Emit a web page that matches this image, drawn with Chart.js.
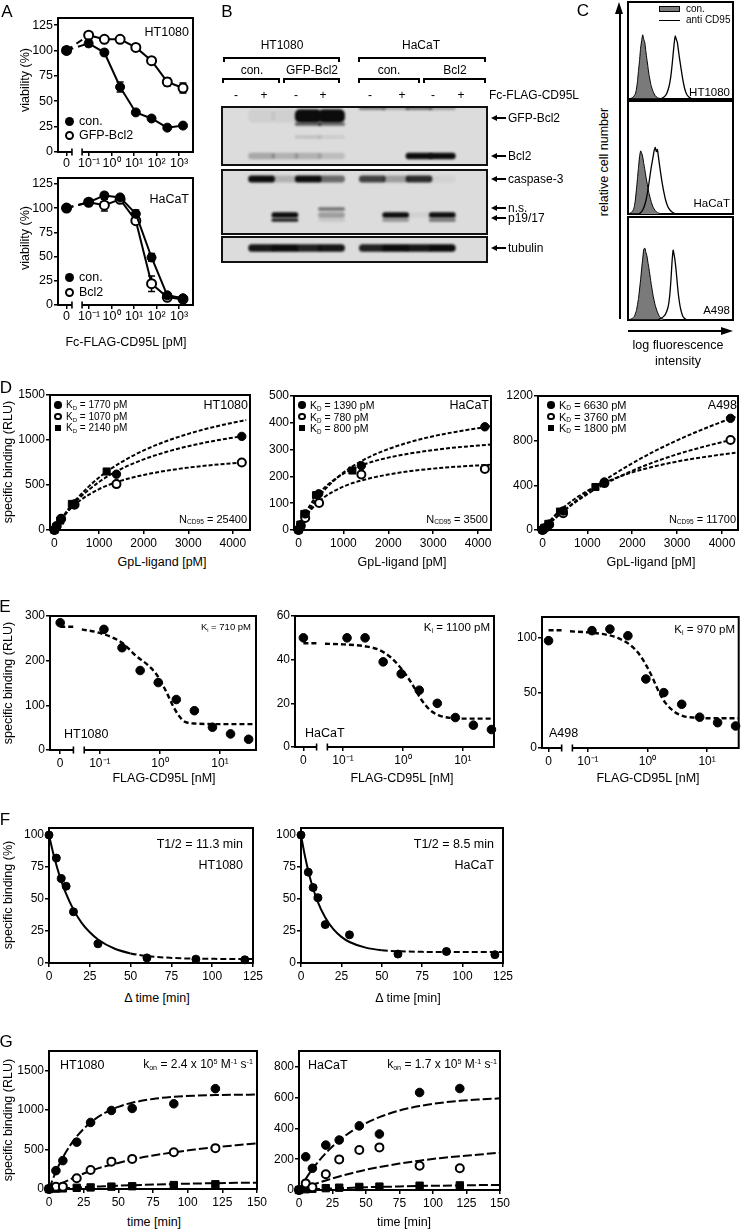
<!DOCTYPE html>
<html><head><meta charset="utf-8"><title>Figure</title>
<script src="https://cdn.jsdelivr.net/npm/chart.js@4.4.1/dist/chart.umd.min.js"></script>
<style>
html,body{margin:0;padding:0;background:#fff;}
#fig{position:relative;width:745px;height:1232px;overflow:hidden;background:#fff;font-family:"Liberation Sans",Arial,Helvetica,sans-serif;color:#000;}
#fig canvas{position:absolute;}
.t{position:absolute;white-space:nowrap;line-height:1;}
.t sub{font-size:60%;vertical-align:-0.3em;line-height:0;}
.t sup{font-size:60%;vertical-align:0.6em;line-height:0;}
</style></head><body><div id="fig"></div>
<script>
// ======================= DATA =======================
// Panel A – viability vs Fc-FLAG-CD95L [pM]
const A_conc = [0, 0.096, 0.48, 2.4, 12, 60, 300, 1500];
const A_HT1080_con = [100, 107, 98, 64, 39, 33, 24, 26];
const A_HT1080_con_sd = [0, 3, 3, 5, 2, 1, 1, 1];
const A_HT1080_gfp = [100, 115, 111, 111, 103, 90, 69, 63];
const A_HT1080_gfp_sd = [0, 2, 1, 1, 3, 1, 4, 5];
const A_HaCaT_con = [100, 106, 113, 111, 94, 49, 10, 7];
const A_HaCaT_con_sd = [0, 2, 3, 1, 4, 4, 2, 1];
const A_HaCaT_bcl = [100, 106, 103, 109, 87, 22, 8, 6];
const A_HaCaT_bcl_sd = [0, 2, 6, 2, 3, 8, 2, 1];
const A_xTickLabels = ['0', '10⁻¹', '10⁰', '10¹', '10²', '10³'];
const A_yTicks = [0, 25, 50, 75, 100, 125];

// Panel B – western blot band intensities per lane (0..1)
const B_lanes = ['-', '+', '-', '+', '-', '+', '-', '+'];
const B_laneX = [1, 2, 3, 4, 5.75, 6.75, 7.75, 8.75];
const B_GFPBcl2 = [0.06, 0.06, 1, 1, 0, 0, 0, 0];
const B_GFPBcl2_low = [0, 0, 0.6, 0.55, 0, 0, 0, 0];
const B_GFPBcl2_deg = [0, 0, 0.12, 0.08, 0, 0, 0, 0];
const B_topEdge = [0, 0, 0, 0, 0.45, 0.25, 0.5, 0.3];
const B_Bcl2 = [0.25, 0.2, 0.2, 0.15, 0, 0, 1, 1];
const B_casp3 = [1, 0.2, 1, 0.55, 0.75, 0.3, 0.85, 0.05];
const B_ns = [0, 0, 0, 0.5, 0, 0, 0, 0];
const B_p19 = [0, 1, 0, 0.3, 0, 1, 0.05, 1];
const B_p17 = [0, 0.9, 0, 0.1, 0, 0.35, 0, 0.5];
const B_tubulin = [0.95, 1, 0.9, 0.95, 0.9, 1, 0.95, 1];

// Panel C – flow cytometry histograms (channel, counts)
const C_HT_con_x = [0, 3, 5, 7, 8, 9, 10, 11, 12, 13, 14, 15, 16, 17, 18, 19, 20, 22, 24, 26, 28, 30, 34, 100];
const C_HT_con_y = [0, 1, 3, 8, 15, 27, 44, 60, 79, 91, 100, 93, 88, 74, 62, 50, 38, 21, 11, 5, 2, 1, 0, 0];
const C_HT_anti_x = [0, 30, 33, 35, 37, 39, 40, 41, 42, 43, 44, 45, 46, 47, 48, 49, 50, 52, 54, 56, 58, 60, 64, 100];
const C_HT_anti_y = [0, 0, 2, 4, 9, 19, 27, 38, 53, 70, 87, 98, 93, 88, 76, 64, 53, 32, 16, 7, 3, 1, 0, 0];
const C_Ha_con_x = [0, 3, 5, 6, 7, 8, 9, 10, 11, 12, 13, 14, 15, 16, 17, 18, 20, 22, 24, 26, 28, 30, 34, 100];
const C_Ha_con_y = [0, 2, 6, 11, 21, 36, 53, 70, 86, 95, 92, 86, 76, 67, 57, 48, 31, 19, 10, 5, 2, 1, 0, 0];
const C_Ha_anti_x = [0, 10, 12, 14, 16, 18, 20, 22, 24, 25, 26, 27, 28, 29, 30, 32, 34, 36, 38, 40, 42, 44, 48, 100];
const C_Ha_anti_y = [0, 0, 2, 6, 14, 27, 47, 69, 87, 96, 100, 94, 97, 86, 74, 52, 34, 20, 11, 6, 3, 1, 0, 0];
const C_A4_con_x = [0, 4, 6, 8, 10, 12, 13, 14, 15, 16, 17, 18, 19, 20, 22, 24, 26, 28, 30, 32, 36, 100];
const C_A4_con_y = [0, 2, 5, 13, 30, 56, 71, 85, 98, 100, 94, 89, 80, 71, 51, 33, 20, 11, 5, 2, 0, 0];
const C_A4_anti_x = [0, 28, 31, 34, 36, 38, 39, 40, 41, 42, 43, 44, 45, 46, 47, 48, 50, 52, 54, 57, 100];
const C_A4_anti_y = [0, 0, 2, 5, 9, 17, 25, 38, 58, 82, 97, 90, 80, 66, 50, 35, 16, 6, 2, 0, 0];

// Panel D – saturation binding, GpL-ligand [pM] vs RLU
const D_fitX = [0, 100, 250, 500, 1000, 1500, 2000, 2500, 3000, 3500, 4000, 4300];
const D_HT_x1 = [0, 50, 150, 450, 1390, 4200], D_HT_y1 = [0, 40, 120, 290, 620, 1040];
const D_HT_x2 = [0, 50, 150, 450, 1390, 4200], D_HT_y2 = [0, 45, 125, 280, 510, 750];
const D_HT_x3 = [0, 40, 130, 390, 1170], D_HT_y3 = [0, 35, 105, 290, 650];
const D_HT_fit1 = [0, 79, 183, 326, 534, 679, 785, 866, 931, 983, 1026, 1048];
const D_HT_fit2 = [0, 80, 178, 299, 454, 549, 612, 658, 693, 720, 742, 753];
const D_HT_fit3 = [0, 82, 191, 347, 583, 754, 884, 986, 1068, 1136, 1192, 1222];
const D_Ha_x1 = [0, 50, 150, 450, 1400, 4150], D_Ha_y1 = [0, 20, 60, 135, 240, 385];
const D_Ha_x2 = [0, 50, 150, 460, 1400, 4150], D_Ha_y2 = [0, 15, 45, 101, 207, 228];
const D_Ha_x3 = [0, 40, 130, 390, 1200], D_Ha_y3 = [0, 20, 60, 130, 222];
const D_Ha_fit1 = [0, 34, 78, 135, 214, 266, 302, 329, 350, 366, 380, 388];
const D_Ha_fit2 = [0, 33, 70, 113, 162, 189, 207, 220, 229, 236, 241, 244];
const D_Ha_fit3 = [0, 42, 90, 145, 210, 247, 270, 286, 298, 308, 315, 319];
const D_A4_x1 = [0, 50, 150, 460, 1380, 4190], D_A4_y1 = [0, 15, 50, 170, 430, 1000];
const D_A4_x2 = [0, 50, 150, 460, 1380, 4190], D_A4_y2 = [0, 15, 50, 150, 420, 806];
const D_A4_x3 = [0, 40, 130, 390, 1180], D_A4_y3 = [0, 20, 55, 165, 385];
const D_A4_fit1 = [0, 38, 94, 181, 338, 475, 597, 706, 803, 890, 969, 1014];
const D_A4_fit2 = [0, 40, 95, 179, 321, 435, 530, 610, 678, 736, 787, 815];
const D_A4_fit3 = [0, 52, 120, 213, 350, 445, 516, 570, 613, 647, 676, 691];

// Panel E – competition, FLAG-CD95L [nM] vs RLU
const E_conc = [0, 0.117, 0.234, 0.469, 0.938, 1.875, 3.75, 7.5, 15, 30];
const E_HT = [285, 270, 229, 178, 151, 113, 88, 51, 36, 24];
const E_Ha = [50, 50, 50, 39, 33.5, 26, 20, 13.5, 10, 8];
const E_A4 = [97.5, 106.6, 108, 102, 62.7, 50.3, 39.7, 28, 23, 20];
const E_xTickLabels = ['0', '10⁻¹', '10⁰', '10¹'];
const E_HT_fitLog = [-1.3, -1.0, -0.63, -0.4, -0.2, -0.05, 0.1, 0.22, 0.32, 0.42, 0.6, 1.0, 1.6];
const E_HT_fit = [270, 262, 240, 211, 190, 168, 132, 98, 76, 63, 59, 58, 58];
const E_HT_fit0 = 276;
const E_Ha_fitLog = [-1.3, -1.0, -0.6, -0.4, -0.2, 0, 0.15, 0.3, 0.45, 0.6, 0.8, 1.0, 1.5];
const E_Ha_fit = [47.3, 47, 46, 44.5, 41, 35, 29, 22, 17, 14.5, 13.3, 13, 13];
const E_Ha_fit0 = 47.5;
const E_A4_fitLog = [-1.3, -1.0, -0.7, -0.5, -0.3, -0.15, 0, 0.1, 0.2, 0.3, 0.45, 0.6, 0.8, 1.0, 1.55];
const E_A4_fit = [106, 105, 103, 100, 94, 86, 73, 62, 50, 41, 33, 29, 27.5, 27, 27];
const E_A4_fit0 = 107;

// Panel F – dissociation, Δ time [min] vs % specific binding
const F_time = [0, 4.5, 7.5, 10.5, 15, 30, 60, 90, 120];
const F_HT = [100, 82, 66, 60, 40, 15, 4, 3, 2.5];
const F_Ha = [100, 71, 59, 51, 30, 22, 7, 9, 6.5];
const F_fitTime = [0, 2.5, 5, 7.5, 10, 15, 20, 25, 30, 40, 50, 60, 75, 90, 105, 125];
const F_HT_fit = [100, 86.2, 74.4, 64.2, 55.6, 41.7, 31.4, 24.0, 18.4, 11.3, 7.5, 5.4, 4.0, 3.4, 3.2, 3.05];
const F_Ha_fit = [100, 83.2, 69.4, 58.2, 49.0, 35.5, 26.4, 20.4, 16.4, 12.0, 10.0, 9.2, 8.7, 8.56, 8.52, 8.5];

// Panel G – association, time [min] vs RLU
const G_time = [0, 5, 10, 20, 30, 45, 60, 90, 120];
const G_HT_1 = [0, 233, 360, 594, 844, 996, 1022, 1081, 1272];
const G_HT_2 = [0, 30, 30, 136, 242, 347, 382, 467, 518];
const G_HT_3 = [0, 5, 8, 15, 20, 30, 35, 50, 60];
const G_Ha_1 = [0, 216, 141, 292, 325, 417, 364, 634, 660];
const G_Ha_2 = [0, 43, 18, 102, 199, 260, 277, 158, 141];
const G_Ha_3 = [0, 5, 8, 12, 15, 20, 22, 28, 30];
const G_fitTime = [0, 5, 10, 15, 20, 30, 40, 50, 60, 75, 90, 105, 120, 135, 150];
const G_HT_fit1 = [0, 220, 400, 546, 666, 843, 962, 1042, 1094, 1142, 1169, 1183, 1191, 1195, 1197];
const G_HT_fit2 = [0, 42, 80, 120, 160, 230, 285, 330, 375, 425, 465, 500, 530, 555, 578];
const G_HT_fit3 = [0, 5, 10, 14, 20, 28, 35, 42, 48, 56, 63, 69, 74, 78, 81];
const G_Ha_fit1 = [0, 72, 135, 191, 240, 322, 386, 435, 474, 517, 546, 566, 580, 589, 596];
const G_Ha_fit2 = [0, 17, 33, 48, 62, 88, 111, 132, 149, 172, 191, 207, 220, 231, 243];
const G_Ha_fit3 = [0, 3, 5, 7, 9, 12, 15, 18, 20, 23, 26, 28, 30, 32, 33];

// ======================= SETUP =======================
const fig = document.getElementById('fig');
Chart.defaults.font.family = '"Liberation Sans", Arial, Helvetica, sans-serif';
Chart.defaults.font.size = 12;
Chart.defaults.color = '#000';

const framePlugin = {
  id: 'frame',
  beforeDatasetsDraw(chart, args, o) {
    const {ctx, chartArea: a} = chart;
    ctx.save();
    if (o.bg) { ctx.fillStyle = o.bg; ctx.fillRect(a.left, a.top, a.right - a.left, a.bottom - a.top); }
    ctx.strokeStyle = o.color || '#000';
    ctx.lineWidth = o.lw || 2;
    ctx.strokeRect(a.left, a.top, a.right - a.left, a.bottom - a.top);
    if (o.brk) {
      const xs = chart.scales.x;
      const x1 = xs.getPixelForValue(o.brk[0]), x2 = xs.getPixelForValue(o.brk[1]);
      ctx.fillStyle = '#fff';
      ctx.fillRect(x1, a.bottom - 2, x2 - x1, 4);
      ctx.lineWidth = 1.6;
      ctx.beginPath();
      [x1, x2].forEach(x => { ctx.moveTo(x, a.bottom - 3.5); ctx.lineTo(x, a.bottom + 3.5); });
      ctx.stroke();
    }
    ctx.restore();
  }
};
const errPlugin = {
  id: 'errbars',
  beforeDatasetsDraw(chart) {
    const ctx = chart.ctx;
    chart.data.datasets.forEach((ds, di) => {
      if (!ds.errors) return;
      const meta = chart.getDatasetMeta(di);
      const ys = chart.scales[meta.yAxisID];
      ctx.save(); ctx.strokeStyle = '#000'; ctx.lineWidth = 1.5;
      meta.data.forEach((p, i) => {
        const e = ds.errors[i]; if (!e) return;
        const v = ds.data[i].y;
        const yt = ys.getPixelForValue(v + e), yb = ys.getPixelForValue(v - e);
        ctx.beginPath();
        ctx.moveTo(p.x, yt); ctx.lineTo(p.x, yb);
        ctx.moveTo(p.x - 3.5, yt); ctx.lineTo(p.x + 3.5, yt);
        ctx.moveTo(p.x - 3.5, yb); ctx.lineTo(p.x + 3.5, yb);
        ctx.stroke();
      });
      ctx.restore();
    });
  }
};
const blurPlugin = {
  id: 'blur',
  beforeDatasetDraw(chart, args, o) { if (o && o.px) chart.ctx.filter = 'blur(' + o.px + 'px)'; },
  afterDatasetDraw(chart) { chart.ctx.filter = 'none'; }
};
Chart.register(framePlugin, errPlugin, blurPlugin);

function axis(o) {
  return {
    type: 'linear', position: o.pos, min: o.min, max: o.max,
    afterBuildTicks(s) { s.ticks = o.ticks.map(v => ({value: v})); },
    ticks: {autoSkip: false, maxRotation: 0, minRotation: 0, padding: o.tp ?? 2, font: {size: o.fs ?? 12}, color: '#000',
      callback: (v, i) => o.labels ? o.labels[i] : String(v)},
    grid: {display: true, drawOnChartArea: false, drawTicks: true, tickLength: 4, tickWidth: 1.5, tickColor: '#000', color: '#000', lineWidth: 1.5},
    border: {display: false}
  };
}
const sx = o => axis(Object.assign({pos: 'bottom'}, o));
const sy = o => axis(Object.assign({pos: 'left', tp: 1}, o));
const hid = (min, max, rev) => ({type: 'linear', display: false, min, max, reverse: !!rev});

function makeChart(rect, pad, axes, type, datasets, scales, plug) {
  const cv = document.createElement('canvas');
  const W = rect.R - rect.L + pad.l + pad.r, H = rect.B - rect.T + pad.t + pad.b;
  cv.width = W; cv.height = H;
  cv.style.left = (rect.L - pad.l) + 'px'; cv.style.top = (rect.T - pad.t) + 'px';
  cv.style.width = W + 'px'; cv.style.height = H + 'px';
  fig.appendChild(cv);
  if (axes) {
    scales.x.afterFit = s => { s.height = pad.b; s.paddingLeft = 0; s.paddingRight = 0; };
    scales.y.afterFit = s => { s.width = pad.l; s.paddingTop = 0; s.paddingBottom = 0; };
  }
  return new Chart(cv.getContext('2d'), {
    type, data: {datasets},
    options: {
      responsive: false, maintainAspectRatio: false, animation: false, devicePixelRatio: 1,
      layout: {padding: axes ? {left: 0, top: pad.t, right: pad.r, bottom: 0} : {left: pad.l, top: pad.t, right: pad.r, bottom: pad.b}},
      scales,
      plugins: Object.assign({legend: {display: false}, tooltip: {enabled: false}, title: {display: false}}, plug || {})
    }
  });
}

// dataset helpers
function pts(xs, ys, kind, r, xf) {
  return {data: xs.map((x, i) => ({x: xf ? xf(x) : x, y: ys[i]})), showLine: false, clip: false,
    pointRadius: r, pointStyle: kind === 's' ? 'rect' : 'circle',
    pointBackgroundColor: kind === 'o' ? '#fff' : '#000', pointBorderColor: '#000', pointBorderWidth: kind === 'o' ? 2 : 1};
}
function crv(xs, ys, dash, w, extra) {
  return Object.assign({data: xs.map((x, i) => ({x, y: ys[i]})), showLine: true, pointRadius: 0, borderColor: '#000',
    borderWidth: w || 2, borderDash: dash || [], cubicInterpolationMode: 'monotone'}, extra || {});
}

// HTML text / shapes
function el(css) { const d = document.createElement('div'); d.style.cssText = 'position:absolute;' + css; fig.appendChild(d); return d; }
function T(html, x, y, fs, align, rot) {
  const d = el('left:' + x + 'px;top:' + y + 'px;font-size:' + (fs || 12) + 'px;white-space:nowrap;line-height:1;');
  d.className = 't';
  d.innerHTML = html;
  const tx = rot ? '-50%' : (align === 'c' ? '-50%' : align === 'r' ? '-100%' : '0');
  d.style.transform = 'translate(' + tx + ',-50%)' + (rot ? ' rotate(' + rot + 'deg)' : '');
}
function M(kind, x, y, s) {
  const base = 'left:' + (x - s / 2) + 'px;top:' + (y - s / 2) + 'px;width:' + s + 'px;height:' + s + 'px;box-sizing:border-box;';
  if (kind === 'f') el(base + 'border-radius:50%;background:#000;');
  else if (kind === 'o') el(base + 'border-radius:50%;background:#fff;border:2px solid #000;');
  else el(base + 'background:#000;');
}
function Rect(x, y, w, h, css) { el('left:' + x + 'px;top:' + y + 'px;width:' + w + 'px;height:' + h + 'px;background:#000;' + (css || '')); }

// ======================= PANEL A =======================
const AZ = -2;
const axA = c => c === 0 ? AZ : Math.log10(c);
function seriesA(vals, sd, open) {
  return {data: A_conc.map((c, i) => ({x: axA(c), y: vals[i]})), errors: sd, showLine: true, clip: false,
    borderColor: '#000', borderWidth: 2, pointRadius: 4.5,
    pointBackgroundColor: open ? '#fff' : '#000', pointBorderColor: '#000', pointBorderWidth: open ? 2 : 1,
    segment: {borderDash: c => c.p0DataIndex === 0 ? [7, 5] : undefined}};
}
const A_x = () => sx({min: -2.38, max: 3.62, ticks: [-2, -1, 0, 1, 2, 3], labels: A_xTickLabels, tp: 0, fs: 12.5});
makeChart({L: 58, T: 18, R: 193, B: 152}, {l: 58, t: 10, r: 8, b: 22}, true, 'scatter',
  [seriesA(A_HT1080_con, A_HT1080_con_sd, false), seriesA(A_HT1080_gfp, A_HT1080_gfp_sd, true)],
  {x: A_x(), y: sy({min: 0, max: 132, ticks: A_yTicks, fs: 12.5})}, {frame: {brk: [-1.76, -1.31]}});
makeChart({L: 58, T: 178, R: 193, B: 305}, {l: 58, t: 10, r: 8, b: 22}, true, 'scatter',
  [seriesA(A_HaCaT_con, A_HaCaT_con_sd, false), seriesA(A_HaCaT_bcl, A_HaCaT_bcl_sd, true)],
  {x: A_x(), y: sy({min: 0, max: 131, ticks: A_yTicks, fs: 12.5})}, {frame: {brk: [-1.76, -1.31]}});

T('A', 7, 11, 17, 'c');
T('HT1080', 189, 32, 12.5, 'r');
M('f', 69, 121, 9); T('con.', 79, 121, 12.5);
M('o', 69, 135, 9); T('GFP-Bcl2', 79, 135, 12.5);
T('viability (%)', 25, 80, 12.5, 'c', -90);
T('HaCaT', 189, 199, 12.5, 'r');
M('f', 69, 277, 9); T('con.', 79, 277, 12.5);
M('o', 69, 292, 9); T('Bcl2', 79, 292, 12.5);
T('viability (%)', 25, 238, 12.5, 'c', -90);
T('Fc-FLAG-CD95L [pM]', 126, 342, 12.5, 'c');

// ======================= PANEL B =======================
function bandSet(vals, y, h) {
  return {type: 'bar', grouped: false, barThickness: 26, borderRadius: 5, borderSkipped: false,
    data: B_laneX.map((x, i) => ({x, y: [y - h / 2, y + h / 2]})),
    backgroundColor: vals.map(a => 'rgba(12,12,12,' + a + ')')};
}
const blotX = () => hid(0.25, 9.72);
const blotPlug = {frame: {bg: '#dcdcdc', lw: 2, color: '#111'}, blur: {px: 1.1}};
makeChart({L: 222, T: 107, R: 487, B: 165}, {l: 1, t: 1, r: 1, b: 1}, false, 'bar',
  [bandSet(B_GFPBcl2, 9, 13), bandSet(B_GFPBcl2_low, 17, 3), bandSet(B_GFPBcl2_deg, 30, 3), bandSet(B_topEdge, 1.5, 2.5), bandSet(B_Bcl2, 49, 6)],
  {x: blotX(), y: hid(0, 58, true)}, blotPlug);
makeChart({L: 222, T: 170, R: 487, B: 234}, {l: 1, t: 1, r: 1, b: 1}, false, 'bar',
  [bandSet(B_casp3, 9, 6.5), bandSet(B_ns, 39, 3), bandSet(B_p19, 45, 5), bandSet(B_p17, 50, 3)],
  {x: blotX(), y: hid(0, 64, true)}, blotPlug);
makeChart({L: 222, T: 237, R: 487, B: 262}, {l: 1, t: 1, r: 1, b: 1}, false, 'bar',
  [bandSet(B_tubulin, 11, 7)],
  {x: blotX(), y: hid(0, 25, true)}, blotPlug);

T('B', 227, 11, 17, 'c');
T('HT1080', 282, 45, 12, 'c'); T('HaCaT', 421, 45, 12, 'c');
function bracket(x1, x2, y) { Rect(x1, y, x2 - x1, 1.6); Rect(x1, y, 1.6, 4.5); Rect(x2 - 1.6, y, 1.6, 4.5); }
bracket(223, 340, 57); bracket(358, 486, 57);
bracket(222, 280, 78); bracket(283, 340, 78); bracket(358, 420, 78); bracket(423, 486, 78);
T('con.', 252, 70, 12, 'c'); T('GFP-Bcl2', 312, 70, 12, 'c'); T('con.', 389, 70, 12, 'c'); T('Bcl2', 455, 70, 12, 'c');
const B_labelX = [236, 264, 296, 323, 370, 402, 433, 461];
B_lanes.forEach((s, i) => T(s, B_labelX[i], 95, 12, 'c'));
T('Fc-FLAG-CD95L', 489, 95, 12);
function blotLabel(txt, y) {
  el('left:491px;top:' + (y - 3.5) + 'px;width:0;height:0;border-top:3.5px solid transparent;border-bottom:3.5px solid transparent;border-right:6px solid #000;');
  Rect(496, y - 1, 10, 2);
  T(txt, 508, y, 12);
}
blotLabel('GFP-Bcl2', 118); blotLabel('Bcl2', 156); blotLabel('caspase-3', 179);
blotLabel('n.s.', 208); blotLabel('p19/17', 218); blotLabel('tubulin', 248);

// ======================= PANEL C =======================
function histSet(xs, ys, filled) {
  return {data: xs.map((x, i) => ({x, y: ys[i]})), showLine: true, pointRadius: 0, borderColor: '#000',
    borderWidth: filled ? 1 : 1.3, fill: filled ? 'origin' : false, backgroundColor: filled ? '#7a7a7a' : 'rgba(0,0,0,0)', tension: 0.15};
}
const C_boxes = [
  {r: {L: 628, T: 2, R: 733, B: 99}, con: [C_HT_con_x, C_HT_con_y], anti: [C_HT_anti_x, C_HT_anti_y], ymax: 151},
  {r: {L: 628, T: 101, R: 733, B: 214}, con: [C_Ha_con_x, C_Ha_con_y], anti: [C_Ha_anti_x, C_Ha_anti_y], ymax: 170},
  {r: {L: 628, T: 217, R: 733, B: 320}, con: [C_A4_con_x, C_A4_con_y], anti: [C_A4_anti_x, C_A4_anti_y], ymax: 143}
];
C_boxes.forEach(b => makeChart(b.r, {l: 1, t: 1, r: 1, b: 1}, false, 'line',
  [histSet(b.anti[0], b.anti[1], false), histSet(b.con[0], b.con[1], true)],
  {x: hid(0, 100), y: hid(0, b.ymax)}, {frame: {lw: 2}}));
T('C', 583, 10, 17, 'c');
Rect(659, 6, 21, 6, 'background:#7a7a7a;border:1.5px solid #000;box-sizing:border-box;');
T('con.', 686, 9, 10);
Rect(659, 19.5, 21, 1.3);
T('anti CD95', 686, 20, 10);
T('HT1080', 730, 93, 11.5, 'r'); T('HaCaT', 730, 204, 11.5, 'r'); T('A498', 730, 311, 11.5, 'r');
Rect(618.5, 12, 2, 307);
el('left:615px;top:2px;width:0;height:0;border-left:4.5px solid transparent;border-right:4.5px solid transparent;border-bottom:12px solid #000;');
Rect(628, 330, 96, 2);
el('left:721px;top:326.5px;width:0;height:0;border-top:4.5px solid transparent;border-bottom:4.5px solid transparent;border-left:12px solid #000;');
T('relative cell number', 604, 162, 12.5, 'c', -90);
T('log fluorescence', 678, 345, 12.5, 'c'); T('intensity', 678, 361, 12.5, 'c');

// ======================= PANEL D =======================
const dDash = [4, 2];
function dSets(x1, y1, x2, y2, x3, y3, f1, f2, f3) {
  return [pts(x1, y1, 'f', 4.2), pts(x2, y2, 'o', 4), pts(x3, y3, 's', 5),
    crv(D_fitX, f1, dDash, 2), crv(D_fitX, f2, dDash, 2), crv(D_fitX, f3, dDash, 2)];
}
const D_xTicks = [0, 1000, 2000, 3000, 4000];
makeChart({L: 50, T: 395, R: 250, B: 530}, {l: 50, t: 10, r: 8, b: 22}, true, 'scatter',
  dSets(D_HT_x1, D_HT_y1, D_HT_x2, D_HT_y2, D_HT_x3, D_HT_y3, D_HT_fit1, D_HT_fit2, D_HT_fit3),
  {x: sx({min: -100, max: 4384, ticks: D_xTicks}), y: sy({min: 0, max: 1500, ticks: [0, 500, 1000, 1500]})});
makeChart({L: 294, T: 396, R: 491, B: 530}, {l: 44, t: 10, r: 8, b: 22}, true, 'scatter',
  dSets(D_Ha_x1, D_Ha_y1, D_Ha_x2, D_Ha_y2, D_Ha_x3, D_Ha_y3, D_Ha_fit1, D_Ha_fit2, D_Ha_fit3),
  {x: sx({min: -100, max: 4287, ticks: D_xTicks}), y: sy({min: 0, max: 500, ticks: [0, 100, 200, 300, 400, 500]})});
makeChart({L: 538, T: 396, R: 739, B: 530}, {l: 44, t: 10, r: 5, b: 22}, true, 'scatter',
  dSets(D_A4_x1, D_A4_y1, D_A4_x2, D_A4_y2, D_A4_x3, D_A4_y3, D_A4_fit1, D_A4_fit2, D_A4_fit3),
  {x: sx({min: -100, max: 4357, ticks: D_xTicks}), y: sy({min: 0, max: 1200, ticks: [0, 400, 800, 1200]})});
T('D', 6, 387, 17, 'c');
T('specific binding (RLU)', 8, 462, 12.5, 'c', -90);
function dLegend(x, y0, fs, kd) {
  const kinds = ['f', 'o', 's'];
  kd.forEach((k, i) => { const y = y0 + i * 11.5; M(kinds[i], x, y, kinds[i] === 's' ? 6.5 : 7.5); T('K<sub>D</sub> = ' + k + ' pM', x + 8, y, fs); });
}
dLegend(58, 405, 10, [1770, 1070, 2140]);
dLegend(302, 405, 10.5, [1390, 780, 800]);
dLegend(551, 405, 11, [6630, 3760, 1800]);
T('HT1080', 248, 405, 12.5, 'r'); T('HaCaT', 489, 405, 12.5, 'r'); T('A498', 737, 405, 12.5, 'r');
T('N<sub>CD95</sub> = 25400', 247, 519, 11, 'r'); T('N<sub>CD95</sub> = 3500', 488, 519, 11, 'r'); T('N<sub>CD95</sub> = 11700', 736, 519, 11, 'r');
T('GpL-ligand [pM]', 162, 562, 12.5, 'c'); T('GpL-ligand [pM]', 402, 562, 12.5, 'c'); T('GpL-ligand [pM]', 651, 562, 12.5, 'c');

// ======================= PANEL E =======================
const EZ = -1.66;
const axE = c => c === 0 ? EZ : Math.log10(c);
const eDash = [5, 3];
function eSets(vals, fitLog, fit, fit0) {
  return [pts(E_conc, vals, 'f', 4.3, axE), crv(fitLog, fit, eDash, 2.4), crv([EZ, -1.4], [fit0, fit0], eDash, 2.4)];
}
const E_xTicks = [EZ, -1, 0, 1];
const E_brk = {frame: {brk: [-1.44, -1.26]}};
makeChart({L: 50, T: 616, R: 256, B: 750}, {l: 50, t: 10, r: 8, b: 22}, true, 'scatter',
  eSets(E_HT, E_HT_fitLog, E_HT_fit, E_HT_fit0),
  {x: sx({min: -1.83, max: 1.6, ticks: E_xTicks, labels: E_xTickLabels}), y: sy({min: 0, max: 300, ticks: [0, 100, 200, 300]})}, E_brk);
makeChart({L: 295, T: 616, R: 494, B: 747}, {l: 44, t: 10, r: 8, b: 22}, true, 'scatter',
  eSets(E_Ha, E_Ha_fitLog, E_Ha_fit, E_Ha_fit0),
  {x: sx({min: -1.8, max: 1.52, ticks: E_xTicks, labels: E_xTickLabels}), y: sy({min: 0, max: 60, ticks: [0, 20, 40, 60]})}, E_brk);
makeChart({L: 542, T: 617, R: 740, B: 748}, {l: 44, t: 10, r: 4, b: 22}, true, 'scatter',
  eSets(E_A4, E_A4_fitLog, E_A4_fit, E_A4_fit0),
  {x: sx({min: -1.77, max: 1.53, ticks: E_xTicks, labels: E_xTickLabels}), y: sy({min: 0, max: 119, ticks: [0, 50, 100]})}, E_brk);
T('E', 5, 606, 17, 'c');
T('specific binding (RLU)', 8, 683, 12.5, 'c', -90);
T('K<sub>i</sub> = 710 pM', 251, 627, 9.5, 'r'); T('K<sub>i</sub> = 1100 pM', 490, 628, 11.5, 'r'); T('K<sub>i</sub> = 970 pM', 735, 630, 11.5, 'r');
T('HT1080', 64, 734, 12.5); T('HaCaT', 305, 733, 12.5); T('A498', 549, 733, 12.5);
T('FLAG-CD95L [nM]', 164, 778, 12.5, 'c'); T('FLAG-CD95L [nM]', 402, 778, 12.5, 'c'); T('FLAG-CD95L [nM]', 648, 778, 12.5, 'c');

// ======================= PANEL F =======================
const fSeg = {segment: {borderDash: c => F_fitTime[c.p1DataIndex] > 50 ? [6, 3] : undefined}};
const F_x = () => sx({min: 0, max: 125, ticks: [0, 25, 50, 75, 100, 125]});
const F_y = () => sy({min: 0, max: 105.5, ticks: [0, 25, 50, 75, 100]});
makeChart({L: 49, T: 828, R: 253, B: 963}, {l: 49, t: 10, r: 10, b: 22}, true, 'scatter',
  [pts(F_time, F_HT, 'f', 4), crv(F_fitTime, F_HT_fit, [], 2, fSeg)], {x: F_x(), y: F_y()});
makeChart({L: 301, T: 828, R: 503, B: 963}, {l: 44, t: 10, r: 10, b: 22}, true, 'scatter',
  [pts(F_time, F_Ha, 'f', 4), crv(F_fitTime, F_Ha_fit, [], 2, fSeg)], {x: F_x(), y: F_y()});
T('F', 5, 819, 17, 'c');
T('specific binding (%)', 8, 895, 12.5, 'c', -90);
T('T1/2 = 11.3 min', 243, 844, 12.5, 'r'); T('HT1080', 243, 865, 12.5, 'r');
T('T1/2 = 8.5 min', 494, 844, 12.5, 'r'); T('HaCaT', 494, 865, 12.5, 'r');
T('Δ time [min]', 157, 998, 12.5, 'c'); T('Δ time [min]', 408, 998, 12.5, 'c');

// ======================= PANEL G =======================
const gDash = [9, 3];
function gSets(y1, y2, y3, f1, f2, f3) {
  return [pts(G_time, y1, 'f', 4.3), pts(G_time, y2, 'o', 4), pts(G_time, y3, 's', 5.2),
    crv(G_fitTime, f1, gDash, 2), crv(G_fitTime, f2, gDash, 2), crv(G_fitTime, f3, gDash, 2)];
}
const G_x = () => sx({min: 0, max: 150, ticks: [0, 25, 50, 75, 100, 125, 150]});
makeChart({L: 49, T: 1051, R: 257, B: 1189}, {l: 49, t: 10, r: 10, b: 22}, true, 'scatter',
  gSets(G_HT_1, G_HT_2, G_HT_3, G_HT_fit1, G_HT_fit2, G_HT_fit3),
  {x: G_x(), y: sy({min: 0, max: 1750, ticks: [0, 500, 1000, 1500]})});
makeChart({L: 299, T: 1051, R: 500, B: 1190}, {l: 44, t: 10, r: 12, b: 22}, true, 'scatter',
  gSets(G_Ha_1, G_Ha_2, G_Ha_3, G_Ha_fit1, G_Ha_fit2, G_Ha_fit3),
  {x: G_x(), y: sy({min: 0, max: 904, ticks: [0, 200, 400, 600, 800]})});
T('G', 6, 1041, 17, 'c');
T('specific binding (RLU)', 8, 1120, 12.5, 'c', -90);
T('HT1080', 60, 1065, 12.5); T('k<sub>on</sub> = 2.4 x 10<sup>5</sup> M<sup>-1</sup> s<sup>-1</sup>', 253, 1064, 12, 'r');
T('HaCaT', 308, 1065, 12.5); T('k<sub>on</sub> = 1.7 x 10<sup>5</sup> M<sup>-1</sup> s<sup>-1</sup>', 497, 1064, 12, 'r');
T('time [min]', 154, 1222, 12.5, 'c'); T('time [min]', 404, 1222, 12.5, 'c');
</script></body></html>
